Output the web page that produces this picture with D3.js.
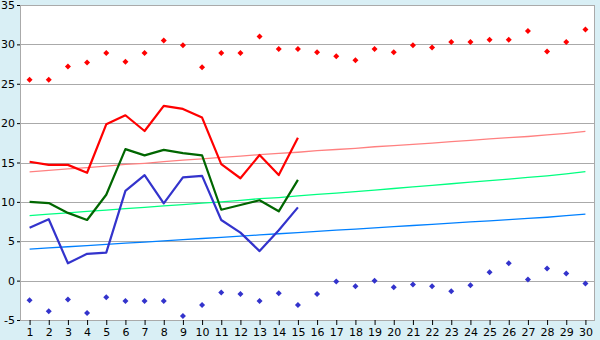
<!DOCTYPE html>
<html>
<head>
<meta charset="utf-8">
<script src="https://cdn.jsdelivr.net/npm/d3@7"></script>
<style>
  html, body { margin: 0; padding: 0; background: #d9eff5; }
  svg { display: block; }
  .tick text { font-family: "DejaVu Sans", Verdana, sans-serif; font-size: 11px; fill: #000; }
</style>
</head>
<body>
<svg id="chart" width="600" height="340"></svg>
<script>
// days of the month
const days = d3.range(1, 31);
const yTicks = [-5, 0, 5, 10, 15, 20, 25, 30, 35];

// observed daily values (first 15 days)
const maxTemp = [15.1, 14.7, 14.7, 13.7, 19.85, 21.0, 19.0, 22.2, 21.8, 20.7, 14.8, 13.0, 15.95, 13.4, 18.15];
const meanTemp = [10.0, 9.85, 8.6, 7.7, 10.9, 16.7, 15.9, 16.6, 16.2, 15.9, 9.0, 9.6, 10.2, 8.8, 12.8];
const minTemp = [6.7, 7.8, 2.2, 3.4, 3.55, 11.4, 13.4, 9.8, 13.1, 13.3, 7.7, 6.1, 3.75, 6.4, 9.3];

// record values per day
const recordMax = [25.5, 25.5, 27.2, 27.7, 28.9, 27.8, 28.9, 30.5, 29.9, 27.1,
  28.9, 28.9, 31.0, 29.4, 29.4, 29.0, 28.5, 28.0, 29.4, 29.0,
  29.9, 29.6, 30.3, 30.3, 30.6, 30.6, 31.7, 29.1, 30.3, 31.9];
const recordMin = [-2.5, -3.9, -2.4, -4.1, -2.1, -2.6, -2.6, -2.6, -4.5, -3.1,
  -1.5, -1.7, -2.6, -1.6, -3.1, -1.7, -0.1, -0.7, 0.0, -0.85,
  -0.5, -0.7, -1.35, -0.6, 1.05, 2.2, 0.15, 1.55, 0.9, -0.35];

// normals per day
const normalMax = [13.8, 14.0, 14.2, 14.35, 14.55, 14.75, 14.9, 15.1, 15.3, 15.45,
  15.65, 15.8, 16.0, 16.15, 16.3, 16.5, 16.65, 16.8, 17.0, 17.15,
  17.3, 17.45, 17.65, 17.8, 18.0, 18.15, 18.3, 18.5, 18.7, 18.95];
const normalMean = [8.25, 8.45, 8.6, 8.8, 8.95, 9.15, 9.3, 9.5, 9.65, 9.85,
  10.0, 10.2, 10.4, 10.55, 10.75, 10.95, 11.1, 11.3, 11.5, 11.7,
  11.9, 12.1, 12.3, 12.5, 12.7, 12.9, 13.1, 13.3, 13.55, 13.85];
const normalMin = [4.0, 4.15, 4.3, 4.45, 4.6, 4.75, 4.9, 5.05, 5.2, 5.35,
  5.5, 5.65, 5.8, 5.95, 6.1, 6.25, 6.4, 6.55, 6.7, 6.85,
  7.0, 7.15, 7.3, 7.45, 7.6, 7.75, 7.9, 8.05, 8.25, 8.45];

const margin = { top: 5, right: 5, bottom: 20, left: 20 };
const width = 600;
const height = 340;

const svg = d3.select('#chart');

const x = d3.scalePoint()
  .domain(days)
  .range([margin.left, width - margin.right])
  .padding(0.5);

const y = d3.scaleLinear()
  .domain([-5, 35])
  .range([height - margin.bottom, margin.top]);

// plot background
svg.append('rect')
  .attr('x', margin.left)
  .attr('y', margin.top)
  .attr('width', width - margin.left - margin.right)
  .attr('height', height - margin.top - margin.bottom)
  .attr('fill', '#fff');

// grid
svg.append('g')
  .attr('class', 'grid')
  .selectAll('line')
  .data(yTicks)
  .join('line')
  .attr('x1', margin.left)
  .attr('x2', width - margin.right)
  .attr('y1', (d) => Math.round(y(d)) + 0.5)
  .attr('y2', (d) => Math.round(y(d)) + 0.5)
  .attr('stroke', '#aaa')
  .attr('stroke-width', 1);

// frame (left and right)
svg.append('line')
  .attr('x1', margin.left + 0.5).attr('x2', margin.left + 0.5)
  .attr('y1', margin.top).attr('y2', height - margin.bottom)
  .attr('stroke', '#aaa');
svg.append('line')
  .attr('x1', width - margin.right - 0.5).attr('x2', width - margin.right - 0.5)
  .attr('y1', margin.top).attr('y2', height - margin.bottom)
  .attr('stroke', '#aaa');

// axes
const yAxis = svg.append('g')
  .attr('transform', `translate(${margin.left},0)`)
  .call(d3.axisLeft(y).tickValues(yTicks).tickSize(3).tickPadding(2).tickFormat((d) => String(d)));
yAxis.select('.domain').remove();
yAxis.selectAll('.tick line').attr('stroke', '#000');

const xAxis = svg.append('g')
  .attr('transform', `translate(0,${height - margin.bottom})`)
  .call(d3.axisBottom(x).tickSize(5).tickPadding(3));
xAxis.select('.domain').remove();
xAxis.selectAll('.tick line').attr('stroke', '#000');

// normals
const line = d3.line()
  .x((d, i) => x(days[i]))
  .y((d) => y(d));

const normals = [
  { values: normalMax, color: '#ff8080' },
  { values: normalMean, color: '#00ff80' },
  { values: normalMin, color: '#0080ff' }
];

svg.append('g')
  .selectAll('path')
  .data(normals)
  .join('path')
  .attr('fill', 'none')
  .attr('stroke', (d) => d.color)
  .attr('stroke-width', 1.3)
  .attr('d', (d) => line(d.values));

// observed series
const observed = [
  { values: maxTemp, color: '#ff0000' },
  { values: meanTemp, color: '#006600' },
  { values: minTemp, color: '#3333cc' }
];

svg.append('g')
  .selectAll('path')
  .data(observed)
  .join('path')
  .attr('fill', 'none')
  .attr('stroke', (d) => d.color)
  .attr('stroke-width', 2.2)
  .attr('stroke-linejoin', 'round')
  .attr('d', (d) => line(d.values));

// records as small diamonds
const diamond = 'M0,-3L3,0L0,3L-3,0Z';

const records = [
  { values: recordMax, color: '#ff0000' },
  { values: recordMin, color: '#3333cc' }
];

records.forEach((series) => {
  svg.append('g')
    .selectAll('path')
    .data(series.values)
    .join('path')
    .attr('d', diamond)
    .attr('fill', series.color)
    .attr('transform', (d, i) => `translate(${x(days[i])},${y(d)})`);
});
</script>
</body>
</html>
